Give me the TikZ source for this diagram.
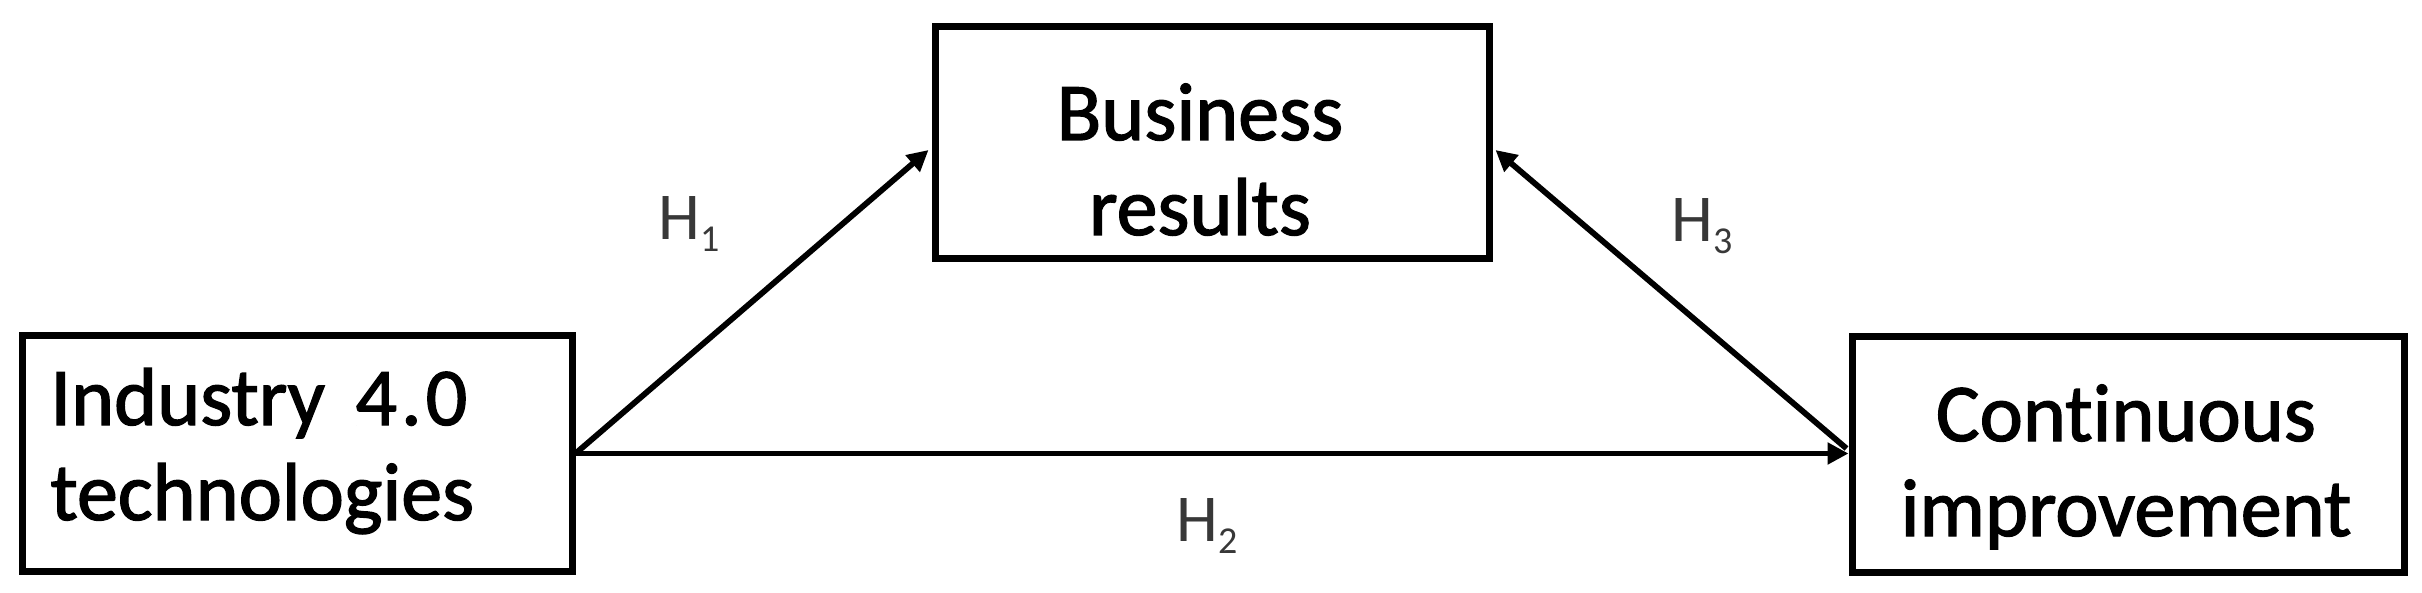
\documentclass[tikz,border=0pt]{standalone}
\usepackage{fontspec}
\setmainfont[Ligatures=NoCommon]{Carlito}
\newfontfamily\boxfont[Ligatures=NoCommon,FakeBold=1.6]{Carlito}
\usetikzlibrary{arrows.meta,calc}
\begin{document}
\begin{tikzpicture}[x=0.5pt,y=-0.5pt,
  box/.style={draw, line width=3.5pt, inner sep=0pt},
  maintext/.style={inner sep=0pt, font=\boxfont\fontsize{41}{47.5}\selectfont},
  hlabel/.style={inner sep=0pt, text=black!78, font=\fontsize{33.5}{40}\selectfont, anchor=base west},
  conn/.style={line width=2.9pt, -{Triangle[length=10.5pt,width=10.5pt]}}]
\useasboundingbox (0,0) rectangle (2422,593);
% boxes
\node[box, minimum width=275pt, minimum height=117.5pt] (ind) at (297,453.5) {};
\node[box, minimum width=277pt, minimum height=116pt] (biz) at (1212,143) {};
\node[box, minimum width=276pt, minimum height=117.5pt] (ci) at (2128,454.5) {};
% box texts
\node[maintext, anchor=base west] (indtxt) at (50,425)
  {\begin{tabular}[t]{@{}l@{}}Industry\hspace{6pt} 4\hspace{2pt}.\hspace{2pt}0\\technologies\end{tabular}};
\node[maintext, anchor=base] (biztxt) at (1200,140)
  {\begin{tabular}[t]{@{}c@{}}Business\\results\end{tabular}};
\node[maintext, anchor=base] (citxt) at (2126,441)
  {\begin{tabular}[t]{@{}c@{}}Continuous\\improvement\end{tabular}};
% connectors
\draw[conn] (ind.east) -- ($(biz.west)+(-3,7)$);
\draw[conn] (ind.east) -- (ind.east -| ci.west);
\draw[conn] ($(ci.west)+(-2,-6)$) -- ($(biz.east)+(3,7)$);
% labels
\node[hlabel] (h1) at (658,240) {H\raisebox{-6pt}{\fontsize{19}{20}\selectfont 1}};
\node[hlabel] (h2) at (1176,541) {H\raisebox{-6pt}{\fontsize{19}{20}\selectfont 2}};
\node[hlabel] (h3) at (1671,242) {H\raisebox{-6pt}{\fontsize{19}{20}\selectfont 3}};
\end{tikzpicture}
\end{document}
